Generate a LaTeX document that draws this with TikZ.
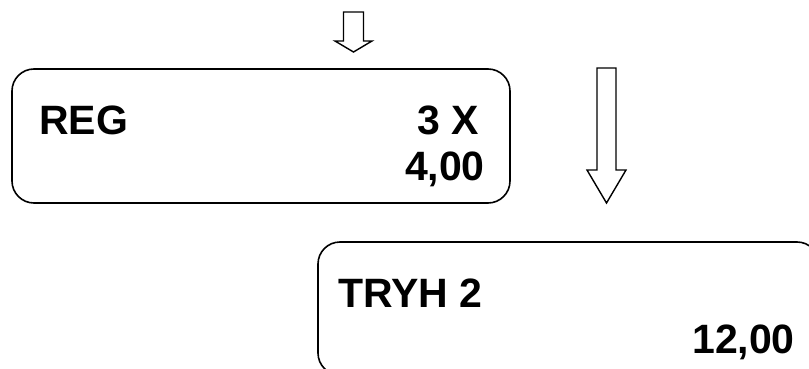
\documentclass[tikz,border=0pt]{standalone}
\usepackage{fontspec}
\setmainfont{Liberation Sans}
\usepackage{tikz}
\usetikzlibrary{positioning,calc}

\begin{document}
\begin{tikzpicture}[
    x=1pt, y=-1pt,
    display/.style={draw, rounded corners=22pt, line width=1.6pt, inner sep=0pt},
    txt/.style={inner sep=0pt, font=\fontsize{41}{41}\selectfont\bfseries},
    blockarrow/.style={draw, line width=1.4pt, line join=miter}
]
    \useasboundingbox (0,0) rectangle (809,369);
    \clip (0,0) rectangle (809,369);

    % display boxes
    \node[display, minimum width=498pt, minimum height=134pt] (reg) at (261,136) {};
    \node[display, minimum width=501pt, minimum height=133pt] (tryh) at (568.5,308.5) {};

    % texts of the first display
    \node[txt, anchor=base west] (regname) at (39,134) {REG};
    \node[txt, anchor=base east] (qty) at (479,134) {3 X};
    \node[txt, anchor=base east] (price) at (485,180) {4,00};

    % texts of the second display
    \node[txt, anchor=base west] (tryhname) at (338,307) {TRYH 2};
    \node[txt, anchor=base east] (total) at (795,353) {12,00};

    % arrows
    \coordinate (tipa) at (353.5,52);
    \coordinate (tipb) at (606.5,203);
    \draw[blockarrow] (343.5,12) -- (363.5,12) -- (363.5,41) -- (372,41)
        -- (tipa) -- (335,41) -- (343.5,41) -- cycle;
    \draw[blockarrow] (597,68) -- (616,68) -- (616,170) -- (626,170)
        -- (tipb) -- (587,170) -- (597,170) -- cycle;
\end{tikzpicture}
\end{document}
